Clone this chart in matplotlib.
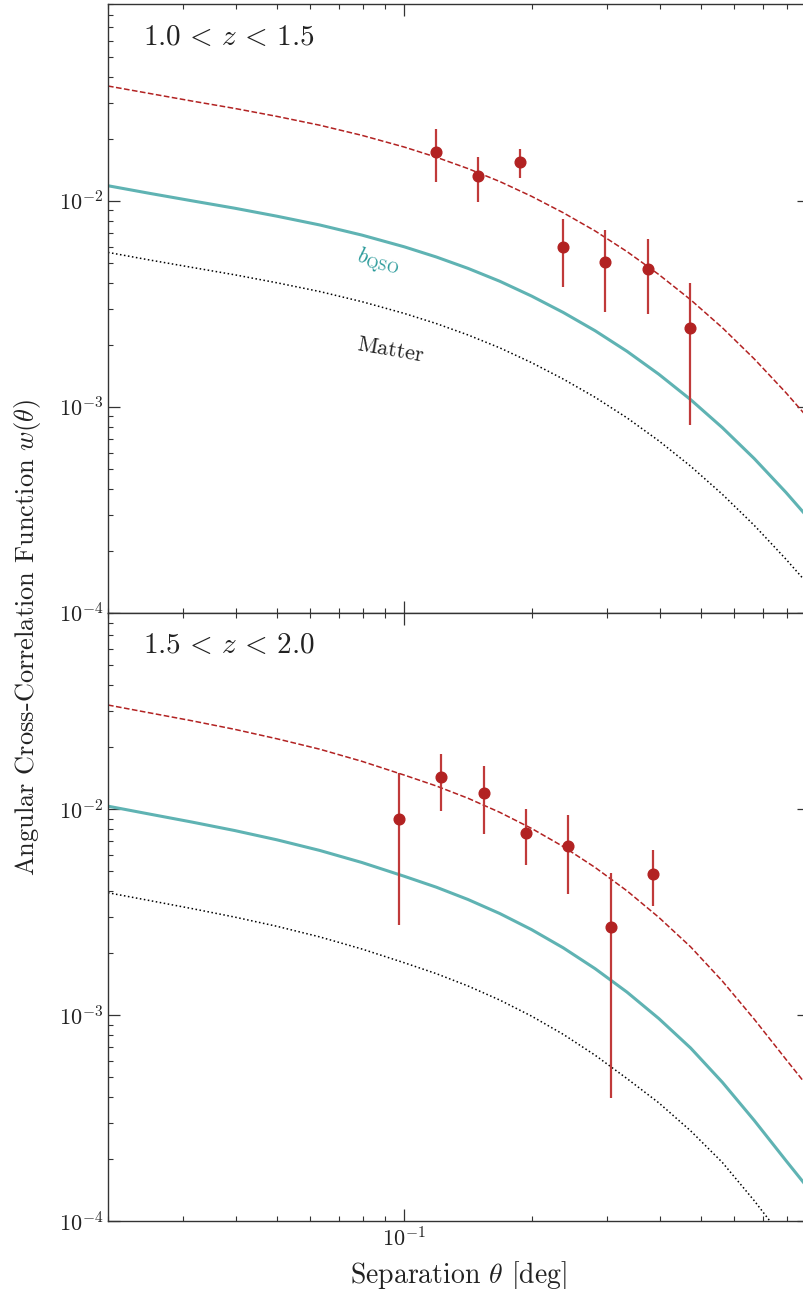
import numpy as np
import matplotlib
matplotlib.use("Agg")
import matplotlib.pyplot as plt
from matplotlib.ticker import LogLocator, NullFormatter

plt.rcParams['font.family'] = 'serif'
plt.rcParams['font.serif'] = ['cmr10']
plt.rcParams['mathtext.fontset'] = 'cm'
plt.rcParams['axes.formatter.use_mathtext'] = True
plt.rcParams['axes.unicode_minus'] = False

# separation grid of the model curves (deg)
theta_model = [0.02, 0.0251, 0.0316, 0.0398, 0.0501, 0.0631, 0.0794, 0.1,
               0.1189, 0.1413, 0.1679, 0.1995, 0.2371, 0.2818, 0.335, 0.3981,
               0.4732, 0.5623, 0.6683, 0.7943, 0.9]

# ---- panel 1 : 1.0 < z < 1.5
fit_lo = [0.0361, 0.0332, 0.0305, 0.0281, 0.0257, 0.0233, 0.0208, 0.01824,
          0.01629, 0.01434, 0.01241, 0.01052, 0.00875, 0.00714, 0.00567,
          0.00439, 0.00331, 0.00242, 0.00171, 0.00117, 0.000872]
qso_lo = [0.01184, 0.01087, 0.0100, 0.00921, 0.00842, 0.00764, 0.00682,
          0.00598, 0.00534, 0.00470, 0.00407, 0.00345, 0.00287, 0.00234,
          0.00186, 0.00144, 0.001084, 0.000792, 0.000561, 0.000384, 0.000286]
matter_lo = [0.00562, 0.00516, 0.00475, 0.004375, 0.0040, 0.00363, 0.00324,
             0.00284, 0.002537, 0.002233, 0.001933, 0.001639, 0.001363,
             0.001112, 0.000884, 0.000684, 0.000515, 0.000376, 0.000266,
             0.000182, 0.000136]
theta_lo = [0.1187, 0.1493, 0.1876, 0.236, 0.2976, 0.3746, 0.471]
w_lo = [0.0173, 0.0132, 0.0154, 0.00598, 0.00505, 0.00469, 0.00242]
w_lo_hi = [0.0223, 0.0164, 0.0179, 0.00815, 0.00718, 0.00656, 0.00401]
w_lo_lo = [0.0124, 0.00986, 0.0129, 0.0038, 0.0029, 0.00282, 0.000815]

# ---- panel 2 : 1.5 < z < 2.0
fit_hi = [0.0321, 0.0294, 0.0269, 0.02446, 0.0220, 0.0196, 0.01711, 0.01466,
          0.01299, 0.01132, 0.00967, 0.00808, 0.00659, 0.00522, 0.00402,
          0.00299, 0.00215, 0.001466, 0.000958, 0.000611, 0.000443]
qso_hi = [0.01036, 0.00948, 0.00867, 0.00789, 0.00711, 0.00632, 0.00552,
          0.00473, 0.00419, 0.00365, 0.00312, 0.002607, 0.002125, 0.001684,
          0.001296, 0.000965, 0.000694, 0.000473, 0.000309, 0.000197, 0.000143]
matter_hi = [0.003937, 0.003606, 0.003296, 0.002999, 0.002704, 0.002404,
             0.002099, 0.001799, 0.001594, 0.001388, 0.001186, 0.000991,
             0.000808, 0.00064, 0.000493, 0.000376, 0.000275, 0.000193,
             0.000126, 0.0000794, 0.0000556]
theta_hi = [0.0970, 0.1221, 0.1537, 0.1935, 0.2434, 0.3064, 0.3857]
w_hi = [0.00894, 0.0143, 0.0120, 0.00771, 0.00664, 0.00267, 0.00488]
w_hi_hi = [0.0150, 0.0186, 0.0162, 0.0100, 0.00938, 0.00493, 0.00637]
w_hi_lo = [0.00274, 0.00978, 0.00762, 0.00537, 0.00388, 0.000395, 0.0034]

panels = [
    (r"$1.0\,<\,z\,<\,1.5$", fit_lo, qso_lo, matter_lo, theta_lo, w_lo, w_lo_hi, w_lo_lo),
    (r"$1.5\,<\,z\,<\,2.0$", fit_hi, qso_hi, matter_hi, theta_hi, w_hi, w_hi_hi, w_hi_lo),
]

red = '#b22222'
teal = '#5fb3b3'

fig = plt.figure(figsize=(8.04, 12.89), dpi=100)
W, H = 804., 1289.
ax_left = 108 / W
ax_w = (809 - 108) / W
ax_h = 608.5 / H
ax1 = fig.add_axes([ax_left, 1 - 612.8 / H, ax_w, ax_h])
ax2 = fig.add_axes([ax_left, 1 - 1221.3 / H, ax_w, ax_h], sharex=ax1)

for ax, (label, fit, qso, matter, th, w, whi, wlo) in zip([ax1, ax2], panels):
    ax.set_xscale('log')
    ax.set_yscale('log')
    ax.plot(theta_model, fit, ls='--', color=red, lw=1.1)
    ax.plot(theta_model, qso, ls='-', color=teal, lw=2.2)
    ax.plot(theta_model, matter, ls=':', color='black', lw=1.1)
    w = np.array(w)
    yerr = [w - np.array(wlo), np.array(whi) - w]
    ax.errorbar(th, w, yerr=yerr, fmt='o', color=red, ms=7.7,
                elinewidth=1.6, ecolor='#c03a3a', capsize=0, zorder=5)
    ax.set_xlim(0.02, 0.9)
    ax.set_ylim(1e-4, 0.09)
    ax.text(0.05, 0.945, label, transform=ax.transAxes, fontsize=21,
            ha='left', va='center', color='#222222')
    ax.tick_params(which='both', direction='in', top=True, right=True,
                   colors='#333333', labelcolor='#222222', labelsize=16)
    ax.tick_params(which='major', length=8.6, width=0.9)
    ax.tick_params(which='minor', length=3.6, width=0.8)
    ax.yaxis.set_major_locator(LogLocator(base=10, numticks=10))
    ax.yaxis.set_minor_locator(LogLocator(base=10, subs=np.arange(2, 10), numticks=20))
    ax.yaxis.set_minor_formatter(NullFormatter())
    ax.xaxis.set_minor_formatter(NullFormatter())
    for sp in ax.spines.values():
        sp.set_color('#333333')
        sp.set_linewidth(1.0)

plt.setp(ax1.get_xticklabels(), visible=False)

ax1.text(0.385, 0.577, r"$b_{\rm QSO}$", transform=ax1.transAxes, fontsize=16,
         color='#2a9a9a', rotation=-13, ha='center', va='center')
ax1.text(0.402, 0.432, "Matter", transform=ax1.transAxes, fontsize=16,
         color='#222222', rotation=-10, ha='center', va='center')

ax2.set_xlabel(r"Separation $\theta$ [deg]", fontsize=20, labelpad=6, color='#222222')
fig.text(0.034, 0.505, r"Angular Cross-Correlation Function $w(\theta)$",
         rotation=90, fontsize=19, ha='center', va='center', color='#222222')

fig.savefig('out.png', dpi=100)
